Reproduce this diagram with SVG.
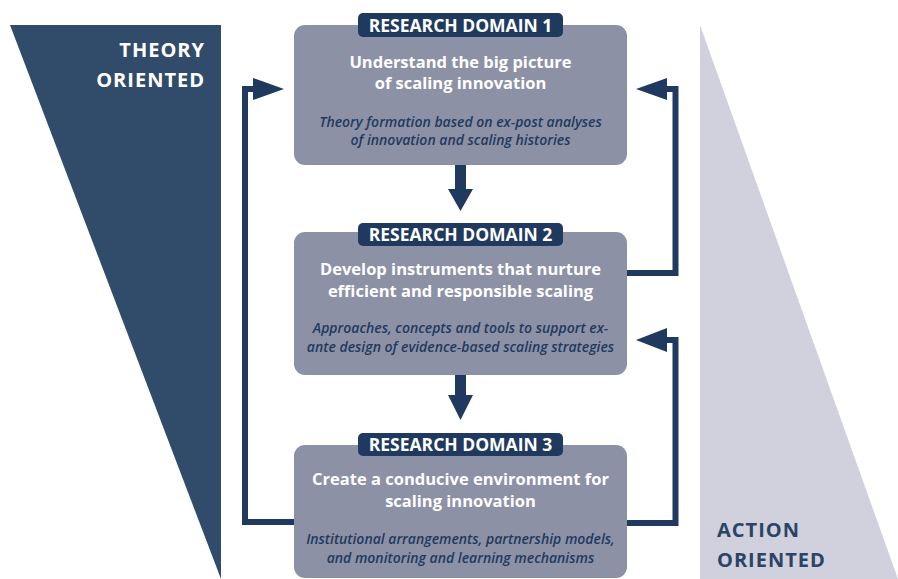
<svg xmlns="http://www.w3.org/2000/svg" width="898" height="579" viewBox="0 0 898 579">
<style>
.box{fill:#8d91a6}
.pill{fill:#1f3a5e}
.pt{font-family:"Open Sans","Liberation Sans",sans-serif;font-weight:700;font-size:17.5px;fill:#ffffff;text-anchor:middle}
.mt{font-family:"Open Sans","Liberation Sans",sans-serif;font-weight:700;font-size:16.5px;fill:#ffffff;text-anchor:middle}
.it{font-family:"Open Sans","Liberation Sans",sans-serif;font-style:italic;font-weight:600;font-size:14px;fill:#1f3a5e;text-anchor:middle}
.side{font-family:"Open Sans","Liberation Sans",sans-serif;font-weight:700;font-size:20px;letter-spacing:1px}
.ln{fill:none;stroke:#1f3a5e;stroke-width:6}
.hd{fill:#1f3a5e}
</style>
<g id="theory-oriented">
<polygon points="10,25 221,25 221,579" fill="#314b6b"/>
<text class="side" x="205" y="57" text-anchor="end" fill="#ffffff">THEORY</text>
<text class="side" x="205" y="87" text-anchor="end" fill="#ffffff">ORIENTED</text>
</g>
<g id="action-oriented">
<polygon points="700,25 898,579 700,579" fill="#d0d1dc"/>
<text class="side" x="717" y="537" fill="#2b4466">ACTION</text>
<text class="side" x="717" y="567" fill="#2b4466">ORIENTED</text>
</g>
<g id="connectors">
<rect x="455" y="165" width="11" height="26" class="hd"/>
<polygon points="448,189 473,189 460.5,211" class="hd"/>
<rect x="455" y="375" width="11" height="22" class="hd"/>
<polygon points="448,395 473,395 460.5,420" class="hd"/>
<polyline class="ln" points="294,522 245,522 245,89 256,89"/>
<polygon points="253,78 284,89 253,100" class="hd"/>
<polyline class="ln" points="627,273 675.5,273 675.5,89 665,89"/>
<polygon points="667,78 636,89 667,100" class="hd"/>
<polyline class="ln" points="627,523 675.5,523 675.5,340 665,340"/>
<polygon points="667,328 636,340 667,352" class="hd"/>
</g>
<g id="domain1">
<rect class="box" x="294" y="25" width="333" height="140" rx="11"/>
<rect class="pill" x="358" y="13" width="205" height="24" rx="5"/>
<text class="pt" x="460.5" y="31.5">RESEARCH DOMAIN 1</text>
<text class="mt" x="460.5" y="68">Understand the big picture</text>
<text class="mt" x="460.5" y="89">of scaling innovation</text>
<text class="it" x="460.5" y="127">Theory formation based on ex-post analyses</text>
<text class="it" x="460.5" y="145">of innovation and scaling histories</text>
</g>
<g id="domain2">
<rect class="box" x="294" y="232" width="333" height="143" rx="11"/>
<rect class="pill" x="358" y="223" width="205" height="23" rx="5"/>
<text class="pt" x="460.5" y="241">RESEARCH DOMAIN 2</text>
<text class="mt" x="460.5" y="275">Develop instruments that nurture</text>
<text class="mt" x="460.5" y="297">efficient and responsible scaling</text>
<text class="it" x="460.5" y="333">Approaches, concepts and tools to support ex-</text>
<text class="it" x="460.5" y="352">ante design of evidence-based scaling strategies</text>
</g>
<g id="domain3">
<rect class="box" x="294" y="445" width="333" height="133" rx="11"/>
<rect class="pill" x="358" y="433" width="205" height="23" rx="5"/>
<text class="pt" x="460.5" y="451">RESEARCH DOMAIN 3</text>
<text class="mt" x="460.5" y="485">Create a conducive environment for</text>
<text class="mt" x="460.5" y="507">scaling innovation</text>
<text class="it" x="460.5" y="544">Institutional arrangements, partnership models,</text>
<text class="it" x="460.5" y="563">and monitoring and learning mechanisms</text>
</g>
</svg>
